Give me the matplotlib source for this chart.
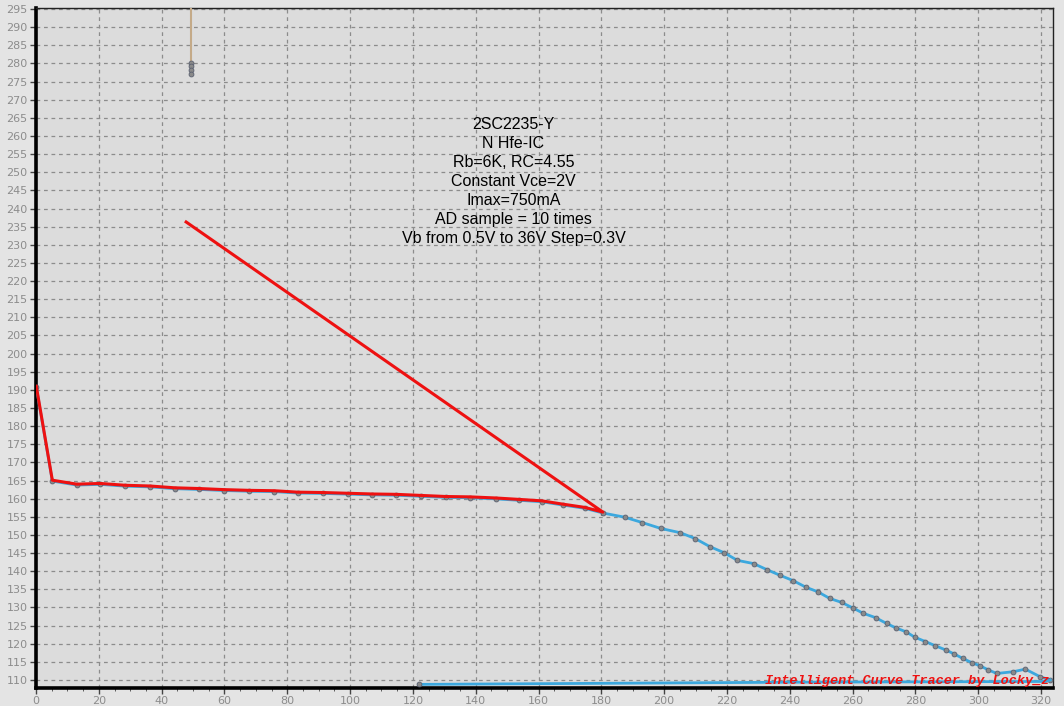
import matplotlib.pyplot as plt
from matplotlib.ticker import MultipleLocator

# shared part of the hfe curve (red pass and blue pass overlap here)
curve_x = [0.1, 5.2, 13.0, 20.4, 28.4, 36.3, 44.2, 52.0, 59.9, 67.9, 75.8, 83.3, 91.3,
           99.2, 106.9, 114.6, 122.6, 130.6, 138.2, 146.3, 153.9, 161.1, 167.7, 174.7, 180.5]
curve_y = [191.0, 165.1, 164.0, 164.2, 163.7, 163.5, 163.0, 162.8, 162.5, 162.3, 162.2, 161.8, 161.7,
           161.5, 161.3, 161.2, 160.9, 160.6, 160.5, 160.2, 159.8, 159.4, 158.5, 157.6, 156.3]

# red pass ends with a jump back
red_jump_x = [47.8]
red_jump_y = [236.3]

# blue pass continues down to the right
tail_x = [187.4, 193.1, 198.9, 205.2, 209.9, 214.5, 219.1, 223.3, 228.5, 232.8, 236.8, 241.1,
          245.1, 249.0, 252.7, 256.5, 260.0, 263.4, 267.3, 270.8, 273.7, 277.0, 279.8, 283.2,
          286.2, 289.6, 292.3, 295.0, 297.9, 300.6, 303.2, 305.9, 311.2, 315.0, 319.7, 322.9]
tail_y = [154.9, 153.4, 151.8, 150.6, 149.0, 146.8, 145.1, 143.0, 142.1, 140.4, 138.9, 137.4,
          135.6, 134.3, 132.5, 131.4, 129.9, 128.4, 127.2, 125.6, 124.4, 123.3, 121.8, 120.6,
          119.5, 118.3, 117.2, 116.0, 114.8, 113.9, 112.8, 111.8, 112.3, 113.0, 110.9, 110.0]

# blue wraps back along the bottom
bottom_x = [322.9, 321.5, 282.0, 242.0, 202.3, 162.4, 121.8]
bottom_y = [110.0, 109.6, 109.5, 109.4, 109.2, 109.0, 108.8]

# tan trace near the top
tan_x = [49.5, 49.5, 49.5, 49.5, 49.5]
tan_y = [295.0, 280.2, 279.2, 278.2, 277.2]

info_lines = ["2SC2235-Y", "N Hfe-IC", "Rb=6K, RC=4.55", "Constant Vce=2V",
              "Imax=750mA", "AD sample = 10 times", "Vb from 0.5V to 36V Step=0.3V"]

fig = plt.figure(figsize=(10.64, 7.06), dpi=100, facecolor='#e4e4e4')
ax = fig.add_axes([36 / 1064, 18 / 706, 1017 / 1064, 680 / 706])
ax.set_facecolor('#dcdcdc')

mk = dict(marker='o', markersize=3.5, markerfacecolor='#8a8a8a', markeredgecolor='#5a6070',
          markeredgewidth=0.6)

ax.plot(curve_x + tail_x, [y - 0.25 for y in curve_y] + tail_y, color='#3ca8de', lw=2, zorder=3, **mk)
ax.plot(bottom_x, bottom_y, color='#3ca8de', lw=2, zorder=3, markevery=[len(bottom_x) - 1], **mk)
ax.plot(curve_x + red_jump_x, curve_y + red_jump_y, color='#ee1111', lw=2.2, zorder=4)
ax.plot(tan_x, tan_y, color='#c4aa88', lw=1.5, zorder=3, markevery=[1, 2, 3, 4], **mk)

ax.set_xlim(0, 323.8)
ax.set_ylim(107.8, 295.3)
ax.xaxis.set_major_locator(MultipleLocator(20))
ax.xaxis.set_minor_locator(MultipleLocator(5))
ax.yaxis.set_major_locator(MultipleLocator(5))
ax.grid(True, which='major', color='#8c8c8c', linestyle=(0, (3, 3)), linewidth=0.9)
ax.tick_params(axis='both', which='major', labelsize=8, labelcolor='#8c8c8c', color='#444444',
               length=4, width=1, pad=2)
ax.tick_params(axis='x', which='minor', length=2.5, color='#444444')

for side in ('left', 'bottom'):
    ax.spines[side].set_linewidth(2.6)
    ax.spines[side].set_color('black')
for side in ('top', 'right'):
    ax.spines[side].set_linewidth(1)
    ax.spines[side].set_color('#222222')

ax.text(0.4695, 0.84, "\n".join(info_lines), transform=ax.transAxes, ha='center', va='top',
        fontsize=11.5, family='Liberation Sans', linespacing=1.33, color='black', zorder=5)

ax.text(0.9965, 0.002, "Intelligent Curve Tracer by Locky_z", transform=ax.transAxes,
        ha='right', va='bottom', fontsize=9.7, family='Liberation Mono', fontweight='bold',
        fontstyle='italic', color='#ee1111', zorder=6)

fig.savefig('out.png', dpi=100, facecolor=fig.get_facecolor())
